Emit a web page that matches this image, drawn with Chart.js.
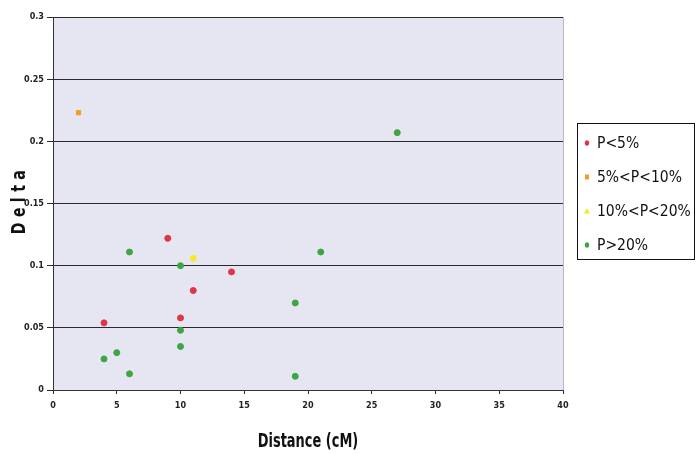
<!DOCTYPE html>
<html>
<head>
<meta charset="utf-8">
<script src="https://cdn.jsdelivr.net/npm/chart.js@4/dist/chart.umd.min.js"></script>
<style>
  html, body { margin: 0; padding: 0; background: #ffffff; }
  #wrap { width: 696px; height: 455px; position: relative; }
</style>
</head>
<body>
<div id="wrap"><canvas id="c" width="696" height="455"></canvas></div>
<script>
// ---- Data ----
const seriesLabels = ['P<5%', '5%<P<10%', '10%<P<20%', 'P>20%'];

const p5X  = [4, 9, 10, 11, 14];
const p5Y  = [0.054, 0.122, 0.058, 0.080, 0.095];

const p10X = [2];
const p10Y = [0.223];

const p20X = [11];
const p20Y = [0.106];

const pHiX = [4, 5, 6, 6, 10, 10, 10, 19, 19, 21, 27];
const pHiY = [0.025, 0.030, 0.111, 0.013, 0.100, 0.048, 0.035, 0.070, 0.011, 0.111, 0.207];

const xTickLabels = ['0', '5', '10', '15', '20', '25', '30', '35', '40'];
const yTickLabels = ['0', '0.05', '0.1', '0.15', '0.2', '0.25', '0.3'];

const xTitle = 'Distance (cM)';
const yTitle = 'Delta';

function pts(xs, ys) { return xs.map((x, i) => ({ x: x, y: ys[i] })); }

const NARROW = "'Liberation Sans Narrow', 'Arial Narrow', 'DejaVu Sans Condensed', sans-serif";

function wrapTitles(chart) {
  const xs = chart.scales.x, ys = chart.scales.y;
  if (!xs._wrapped) {
    const ox = xs.drawTitle;
    xs.drawTitle = function () {
      const c = this.ctx, cx = (this.left + this.right) / 2;
      c.save();
      c.translate(cx, 0); c.scale(0.72, 1); c.translate(-cx, 0);
      ox.apply(this, arguments);
      c.restore();
    };
    xs._wrapped = true;
  }
  if (!ys._wrapped) {
    const oy = ys.drawTitle;
    ys.drawTitle = function () {
      const c = this.ctx, cy = (this.top + this.bottom) / 2;
      c.save();
      try { c.letterSpacing = '7px'; } catch (e) {}
      c.translate(0, cy - 4); c.scale(1, 0.78); c.translate(0, -cy);
      oy.apply(this, arguments);
      c.restore();
    };
    ys._wrapped = true;
  }
}

const plotBg = {
  id: 'plotBg',
  beforeDraw(chart) {
    const { ctx, chartArea: a } = chart;
    ctx.save();
    ctx.fillStyle = '#e6e6f3';
    ctx.fillRect(a.left, a.top, a.right - a.left, a.bottom - a.top);
    ctx.strokeStyle = '#b9b9cc';
    ctx.lineWidth = 1;
    ctx.beginPath();
    ctx.moveTo(a.right + 0.5, a.top);
    ctx.lineTo(a.right + 0.5, a.bottom);
    ctx.stroke();
    ctx.restore();
    wrapTitles(chart);
  }
};

const boxLegend = {
  id: 'boxLegend',
  afterDraw(chart) {
    const { ctx } = chart;
    const x0 = 577.5, y0 = 123.5, w = 117, h = 136;
    ctx.save();
    ctx.strokeStyle = '#111';
    ctx.lineWidth = 1;
    ctx.strokeRect(x0, y0, w, h);
    ctx.font = "15.5px " + NARROW;
    ctx.textBaseline = 'middle';
    ctx.textAlign = 'left';
    chart.data.datasets.forEach((ds, i) => {
      const cy = 143 + i * 34;
      ctx.fillStyle = ds.backgroundColor;
      ctx.beginPath();
      if (ds.pointStyle === 'rect') {
        ctx.fillRect(585, cy - 2.5, 4, 5);
      } else if (i === 2) {
        ctx.moveTo(587, cy - 3); ctx.lineTo(590, cy + 2.5); ctx.lineTo(584, cy + 2.5); ctx.closePath(); ctx.fill();
      } else {
        ctx.ellipse(587, cy, 2.2, 2.8, 0, 0, Math.PI * 2); ctx.fill();
      }
      ctx.fillStyle = '#111';
      ctx.fillText(ds.label, 597, cy + 1);
    });
    ctx.restore();
  }
};

new Chart(document.getElementById('c'), {
  type: 'scatter',
  data: {
    datasets: [
      { label: seriesLabels[0], data: pts(p5X, p5Y),   backgroundColor: '#e03548', borderColor: '#e03548', pointStyle: 'circle', pointRadius: 3 },
      { label: seriesLabels[1], data: pts(p10X, p10Y), backgroundColor: '#efa020', borderColor: '#efa020', pointStyle: 'rect', pointRadius: 3 },
      { label: seriesLabels[2], data: pts(p20X, p20Y), backgroundColor: '#f4ea2a', borderColor: '#f4ea2a', pointStyle: 'circle', pointRadius: 3 },
      { label: seriesLabels[3], data: pts(pHiX, pHiY), backgroundColor: '#3fa543', borderColor: '#3fa543', pointStyle: 'circle', pointRadius: 3 }
    ]
  },
  options: {
    responsive: false,
    animation: false,
    layout: { padding: { left: 0, top: 17, right: 133, bottom: 0 } },
    plugins: {
      legend: { display: false },
      tooltip: { enabled: false }
    },
    scales: {
      x: {
        type: 'linear',
        min: 0, max: 40,
        afterFit(s) { s.height = 65; },
        ticks: {
          stepSize: 5,
          autoSkip: false,
          maxRotation: 0,
          padding: 6,
          color: '#222',
          font: { family: NARROW, size: 9, weight: 'bold' },
          callback: (v, i) => xTickLabels[i]
        },
        grid: { drawOnChartArea: false, drawTicks: true, tickLength: 4, color: '#333' },
        border: { display: true, color: '#333', width: 1 },
        title: {
          display: true, text: xTitle, color: '#111',
          font: { family: NARROW, size: 20, weight: 'bold' },
          padding: { top: 1, bottom: 1 }
        }
      },
      y: {
        type: 'linear',
        min: 0, max: 0.3,
        afterFit(s) { s.width = 53; },
        ticks: {
          stepSize: 0.05,
          autoSkip: false,
          padding: 3,
          color: '#222',
          font: { family: NARROW, size: 9, weight: 'bold' },
          callback: (v, i) => yTickLabels[i]
        },
        grid: { color: '#2a2a2a', lineWidth: 1, drawTicks: true, tickLength: 6 },
        border: { display: true, color: '#333', width: 1 },
        title: {
          display: true, text: yTitle, color: '#111',
          font: { family: NARROW, size: 20, weight: 'bold' },
          padding: { top: 8, bottom: 2 }
        }
      }
    }
  },
  plugins: [plotBg, boxLegend]
});
</script>
</body>
</html>
